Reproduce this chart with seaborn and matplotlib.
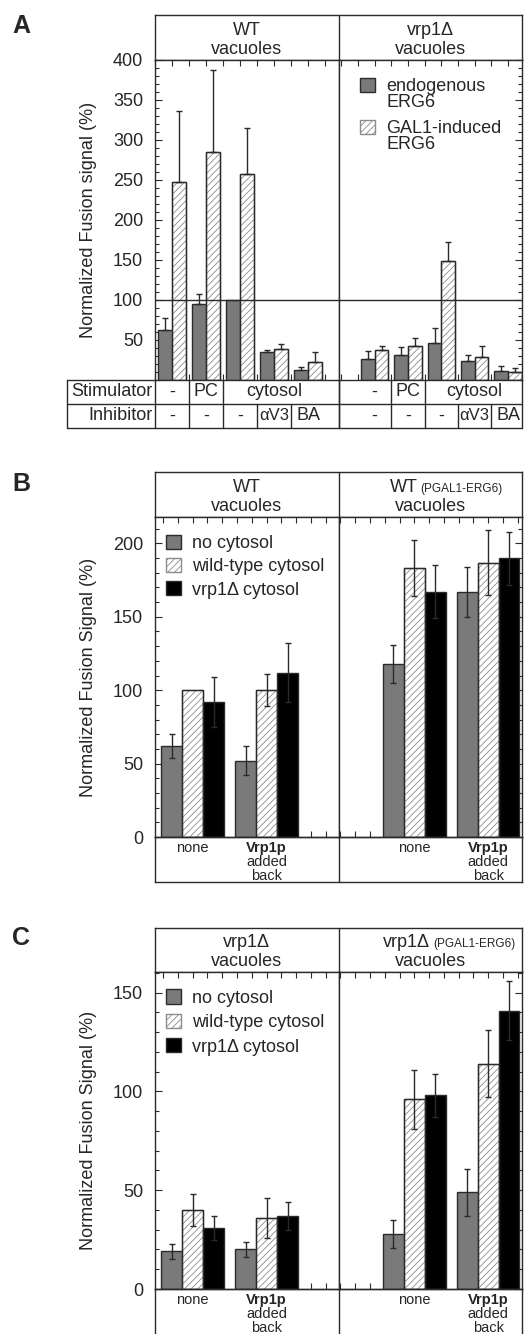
import numpy as np
import pandas as pd
import matplotlib
matplotlib.use("Agg")
import matplotlib.pyplot as plt
import seaborn as sns
from matplotlib.container import BarContainer
from matplotlib.lines import Line2D
from matplotlib.patches import Rectangle
from matplotlib.ticker import MultipleLocator

# ---------------- data ----------------
# Panel A - WT / vrp1-delta vacuoles, endogenous vs GAL1-induced ERG6
a_stimulator = ['-', 'PC', 'cytosol', 'cytosol', 'cytosol']
a_inhibitor = ['-', '-', '-', 'αV3', 'BA']
a_series = ['endogenous\nERG6', 'GAL1-induced\nERG6']
a_headers = ['WT', 'vrp1Δ']

a_wt_endo = [63, 95, 100, 35, 12]
a_wt_endo_err = [15, 12, 0, 3, 4]
a_wt_gal = [247, 285, 258, 39, 23]
a_wt_gal_err = [89, 102, 57, 6, 12]

a_vrp_endo = [26, 31, 46, 24, 11]
a_vrp_endo_err = [10, 10, 19, 7, 7]
a_vrp_gal = [37, 43, 149, 29, 10]
a_vrp_gal_err = [6, 9, 23, 13, 5]

# Panels B and C - cytosol source, with / without Vrp1p added back
bc_groups = ['none', 'Vrp1p']
bc_sublabels = ['', 'added\nback']
bc_series = ['no cytosol', 'wild-type cytosol', 'vrp1Δ cytosol']

b_headers = ['WT', 'WT']
c_headers = ['vrp1Δ', 'vrp1Δ']
bc_suffix = ['', '(PGAL1-ERG6)']

b_wt_none = [62, 52]
b_wt_none_err = [8, 10]
b_wt_wtc = [100, 100]
b_wt_wtc_err = [0, 11]
b_wt_vrpc = [92, 112]
b_wt_vrpc_err = [17, 20]

b_gal_none = [118, 167]
b_gal_none_err = [13, 17]
b_gal_wtc = [183, 187]
b_gal_wtc_err = [19, 22]
b_gal_vrpc = [167, 190]
b_gal_vrpc_err = [18, 18]

c_vrp_none = [19, 20]
c_vrp_none_err = [4, 4]
c_vrp_wtc = [40, 36]
c_vrp_wtc_err = [8, 10]
c_vrp_vrpc = [31, 37]
c_vrp_vrpc_err = [6, 7]

c_gal_none = [28, 49]
c_gal_none_err = [7, 12]
c_gal_wtc = [96, 114]
c_gal_wtc_err = [15, 17]
c_gal_vrpc = [98, 141]
c_gal_vrpc_err = [11, 15]

# ---------------- style ----------------
sns.set_style("ticks")
plt.rcParams['font.family'] = ['Liberation Sans', 'DejaVu Sans']
plt.rcParams['hatch.linewidth'] = 0.6

GRAY = '#7a7a7a'
EDGE = '#2a2a2a'
HATCH = '#8c8c8c'
FS = 13

W, H = 525, 1334
fig = plt.figure(figsize=(W / 100, H / 100), dpi=100)
X0, XM, X1 = 155, 339, 522


def px_rect(x0, y0, x1, y1):
    return [x0 / W, 1 - y1 / H, (x1 - x0) / W, (y1 - y0) / H]


def bar_containers(ax):
    return [c for c in ax.containers if isinstance(c, BarContainer)]


def draw_bars(ax, groups, series, values, errors, colors, width, upper_only):
    df = pd.DataFrame({
        'group': list(groups) * len(series),
        'series': np.repeat(series, len(groups)),
        'value': np.concatenate(values),
    })
    sns.barplot(data=df, x='group', y='value', hue='series', order=groups,
                hue_order=series, palette=dict(zip(series, colors)),
                width=width, gap=0, saturation=1, errorbar=None,
                edgecolor=EDGE, linewidth=1, legend=False, ax=ax)
    conts = bar_containers(ax)
    # second series is the hatched one
    for p in conts[1].patches:
        p.set_hatch('/////')
        p.set_edgecolor(HATCH)
        ax.add_artist(Rectangle(p.get_xy(), p.get_width(), p.get_height(),
                                fill=False, ec=EDGE, lw=1, zorder=p.get_zorder() + 0.1))
    for cont, err in zip(conts, errors):
        xs = np.array([p.get_x() + p.get_width() / 2 for p in cont.patches])
        ys = np.array([p.get_height() for p in cont.patches])
        e = np.asarray(err, float)
        m = e > 0
        yerr = [np.zeros(m.sum()), e[m]] if upper_only else e[m]
        ax.errorbar(xs[m], ys[m], yerr=yerr, fmt='none', ecolor=EDGE,
                    elinewidth=1, capsize=2, capthick=1, zorder=5)


def style_axis(ax, xlim, ylim, major, xminor, side):
    ax.set_xlim(xlim)
    ax.set_ylim(ylim)
    ax.set_xlabel('')
    ax.set_ylabel('')
    ax.set_xticks([])
    ax.xaxis.set_minor_locator(MultipleLocator(xminor))
    ax.set_yticks(major)
    ax.yaxis.set_minor_locator(MultipleLocator(10))
    ax.tick_params(axis='x', which='minor', direction='in', top=True, bottom=True,
                   length=4, width=0.8, color=EDGE)
    ax.tick_params(axis='y', which='major', direction='in', length=5, width=0.8,
                   color=EDGE, labelsize=FS, pad=8.5)
    ax.tick_params(axis='y', which='minor', direction='in', length=3, width=0.8, color=EDGE)
    if side == 'left':
        ax.tick_params(axis='y', which='both', left=True, right=False, labelleft=True)
    else:
        ax.tick_params(axis='y', which='both', left=False, right=True,
                       labelleft=False, labelright=False)
    for sp in ax.spines.values():
        sp.set_visible(True)
        sp.set_color(EDGE)
        sp.set_linewidth(1)


def header(y0, y1, tops, suffixes, split_at):
    hx = fig.add_axes(px_rect(X0, y0, X1, y1))
    hx.set_xlim(0, 1)
    hx.set_ylim(0, 1)
    hx.set_xticks([])
    hx.set_yticks([])
    for sp in hx.spines.values():
        sp.set_color(EDGE)
        sp.set_linewidth(1)
    hx.axvline(0.5, color=EDGE, lw=1)
    for k, (top, suf) in enumerate(zip(tops, suffixes)):
        cx = 0.25 + 0.5 * k
        if suf:
            hx.text(split_at[k], 0.56, top, ha='right', va='baseline', fontsize=FS)
            hx.text(split_at[k] + 0.008, 0.56, suf, ha='left', va='baseline', fontsize=8.5)
        else:
            hx.text(cx, 0.56, top, ha='center', va='baseline', fontsize=FS)
        hx.text(cx, 0.13, 'vacuoles', ha='center', va='baseline', fontsize=FS)
    return hx


def runs(labels):
    out, start = [], 0
    for i in range(1, len(labels) + 1):
        if i == len(labels) or labels[i] != labels[start]:
            out.append((start, i - 1, labels[start]))
            start = i
    return out


def seg(ax, xs, ys, tr):
    ax.add_artist(Line2D(xs, ys, transform=tr, color=EDGE, lw=1, clip_on=False))


# ======================= Panel A =======================
A_TOP, A_BOT = 60, 380
R1, R2 = -24 / (A_BOT - A_TOP), -48 / (A_BOT - A_TOP)
header(15, A_TOP, a_headers, ['', ''], [0, 0])
axAL = fig.add_axes(px_rect(X0, A_TOP, XM, A_BOT))
axAR = fig.add_axes(px_rect(XM, A_TOP, X1, A_BOT))
a_groups = [f'{s}/{i}' for s, i in zip(a_stimulator, a_inhibitor)]

draw_bars(axAL, a_groups, a_series, [a_wt_endo, a_wt_gal],
          [a_wt_endo_err, a_wt_gal_err], [GRAY, 'white'], 0.82, True)
draw_bars(axAR, a_groups, a_series, [a_vrp_endo, a_vrp_gal],
          [a_vrp_endo_err, a_vrp_gal_err], [GRAY, 'white'], 0.82, True)
style_axis(axAL, (-0.5, 4.91), (0, 400), np.arange(50, 401, 50), 0.5, 'left')
style_axis(axAR, (-1.07, 4.42), (0, 400), np.arange(50, 401, 50), 0.5, 'right')
for ax in (axAL, axAR):
    ax.axhline(100, color=EDGE, lw=1, zorder=6)

axAL.set_ylabel('Normalized Fusion signal (%)', fontsize=FS)
axAL.yaxis.set_label_coords(-0.315, 0.5)

leg = axAR.legend([c.patches[0] for c in bar_containers(axAR)], a_series,
                  loc='upper left', bbox_to_anchor=(0.115, 0.945), frameon=False,
                  fontsize=FS, handlelength=0.85, handleheight=0.85,
                  handletextpad=0.6, labelspacing=0.5, borderaxespad=0, borderpad=0)
for t in leg.get_texts():
    t.set_linespacing(0.95)
for col in leg._legend_handle_box.get_children():
    for row in col.get_children():
        row.align = 'top'

# Stimulator / Inhibitor table under panel A
for ax in (axAL, axAR):
    tr = ax.get_xaxis_transform()
    for lo, hi, lab in runs(a_stimulator):
        ax.text((lo + hi) / 2, R1 / 2, lab, transform=tr, ha='center', va='center', fontsize=FS)
        if hi < len(a_stimulator) - 1:
            seg(ax, [hi + 0.5] * 2, [0, R1], tr)
    for i, lab in enumerate(a_inhibitor):
        ax.text(i, (R1 + R2) / 2, lab, transform=tr, ha='center', va='center',
                fontsize=FS - 1 if 'α' in lab else FS)
        if i < len(a_inhibitor) - 1:
            seg(ax, [i + 0.5] * 2, [R1, R2], tr)
    ta = ax.transAxes
    for y in (R1, R2):
        seg(ax, [0, 1], [y, y], ta)
    for x in (0, 1):
        seg(ax, [x, x], [0, R2], ta)

LB = -(X0 - 67) / (XM - X0)
ta = axAL.transAxes
for y in (0, R1, R2):
    seg(axAL, [LB, 0], [y, y], ta)
seg(axAL, [LB, LB], [0, R2], ta)
axAL.text(-0.012, R1 / 2, 'Stimulator', transform=ta, ha='right', va='center', fontsize=FS)
axAL.text(-0.012, (R1 + R2) / 2, 'Inhibitor', transform=ta, ha='right', va='center', fontsize=FS)

split_pos = {'WT': 0.715, 'vrp1Δ': 0.749}


# ======================= Panels B and C =======================
def panel_bc(top, head_h, bot, box_bot, heads, left_vals, left_errs, right_vals,
             right_errs, ylim, major, label, leg_y, leg_sp):
    header(top, top + head_h, heads, bc_suffix, [0, split_pos[heads[1]]])
    y0 = top + head_h
    axL = fig.add_axes(px_rect(X0, y0, XM, bot))
    axR = fig.add_axes(px_rect(XM, y0, X1, bot))
    cols = [GRAY, 'white', 'black']
    draw_bars(axL, bc_groups, bc_series, left_vals, left_errs, cols, 0.85, False)
    draw_bars(axR, bc_groups, bc_series, right_vals, right_errs, cols, 0.85, False)
    style_axis(axL, (-0.51, 1.98), ylim, major, 0.2, 'left')
    style_axis(axR, (-1.02, 1.46), ylim, major, 0.2, 'right')
    axL.set_ylabel(label, fontsize=FS)
    axL.yaxis.set_label_coords(-0.315, 0.5)
    axL.legend([c.patches[0] for c in bar_containers(axL)], bc_series, loc='upper left',
               bbox_to_anchor=(0.06, leg_y), frameon=False, fontsize=FS,
               handlelength=0.85, handleheight=0.85, handletextpad=0.6,
               labelspacing=leg_sp, borderaxespad=0, borderpad=0)
    bx = fig.add_axes(px_rect(X0, bot, X1, box_bot))
    bx.set_xticks([])
    bx.set_yticks([])
    bx.patch.set_alpha(0)
    for sp in bx.spines.values():
        sp.set_color(EDGE)
        sp.set_linewidth(1)
    bx.axvline(0.5, color=EDGE, lw=1)
    for ax in (axL, axR):
        tr = ax.get_xaxis_transform()
        for i, (g, sub) in enumerate(zip(bc_groups, bc_sublabels)):
            ax.annotate(g, xy=(i, 0), xycoords=tr, xytext=(0, -3), textcoords='offset points',
                        ha='center', va='top', fontsize=10.5,
                        fontweight='bold' if sub else 'normal', annotation_clip=False)
            if sub:
                ax.annotate(sub, xy=(i, 0), xycoords=tr, xytext=(0, -13),
                            textcoords='offset points', ha='center', va='top',
                            fontsize=10.5, linespacing=0.95, annotation_clip=False)


panel_bc(472, 45, 837, 882, b_headers,
         [b_wt_none, b_wt_wtc, b_wt_vrpc], [b_wt_none_err, b_wt_wtc_err, b_wt_vrpc_err],
         [b_gal_none, b_gal_wtc, b_gal_vrpc], [b_gal_none_err, b_gal_wtc_err, b_gal_vrpc_err],
         (0, 218), [0, 50, 100, 150, 200], 'Normalized Fusion Signal (%)', 0.945, 0.32)

panel_bc(928, 44, 1289, 1345, c_headers,
         [c_vrp_none, c_vrp_wtc, c_vrp_vrpc], [c_vrp_none_err, c_vrp_wtc_err, c_vrp_vrpc_err],
         [c_gal_none, c_gal_wtc, c_gal_vrpc], [c_gal_none_err, c_gal_wtc_err, c_gal_vrpc_err],
         (0, 160.5), [0, 50, 100, 150], 'Normalized Fusion Signal (%)', 0.945, 0.38)

# panel letters
for letter, ytop in (('A', 14), ('B', 472), ('C', 926)):
    fig.text(12 / W, 1 - ytop / H, letter, fontsize=18, fontweight='bold',
             ha='left', va='top')

fig.savefig('out.png', dpi=100)
